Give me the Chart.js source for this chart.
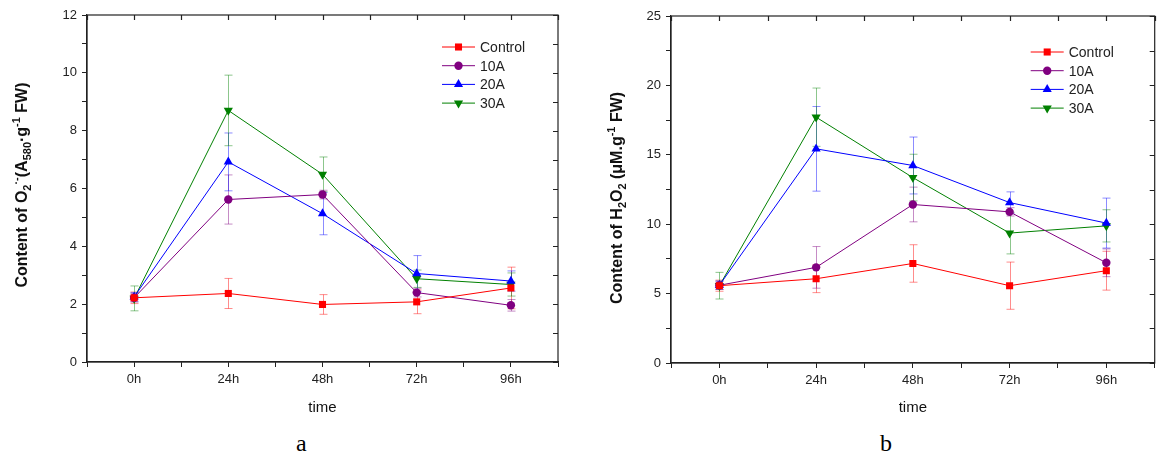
<!DOCTYPE html>
<html>
<head>
<meta charset="utf-8">
<script src="https://cdn.jsdelivr.net/npm/chart.js@4.4.1/dist/chart.umd.min.js"></script>
<style>
body{margin:0;background:#fff;width:1160px;height:459px;overflow:hidden;position:relative;font-family:Arial,"Liberation Sans",sans-serif}
canvas{position:absolute;top:0}
#ca{left:0}
#cb{left:580px}
.cap{position:absolute;top:430px;font:24px "Liberation Serif","Times New Roman",serif;color:#000}
</style>
</head>
<body>
<canvas id="ca" width="580" height="420"></canvas>
<canvas id="cb" width="580" height="420"></canvas>
<div class="cap" style="left:296px">a</div>
<div class="cap" style="left:880px">b</div>
<script>
// categorias e séries
var horas = ['0h', '24h', '48h', '72h', '96h'];
var nomes = ['Control', '10A', '20A', '30A'];
var cores = ['#ff0000', '#800080', '#0000ff', '#008000'];

// painel a: O2- (A580.g-1 FW)
var o2Control = [2.22, 2.37, 1.99, 2.08, 2.56];
var o2ControlErr = [0.2, 0.52, 0.34, 0.41, 0.72];
var o2A10 = [2.22, 5.62, 5.79, 2.40, 1.96];
var o2A10Err = [0.15, 0.85, 0.15, 0.15, 0.2];
var o2A20 = [2.25, 6.92, 5.13, 3.06, 2.80];
var o2A20Err = [0.15, 1.0, 0.73, 0.62, 0.35];
var o2A30 = [2.2, 8.70, 6.49, 2.88, 2.68];
var o2A30Err = [0.43, 1.22, 0.6, 0.3, 0.4];

// painel b: H2O2 (uM.g-1 FW)
var h2o2Control = [5.57, 6.07, 7.17, 5.57, 6.65];
var h2o2ControlErr = [0.4, 1.0, 1.35, 1.7, 1.4];
var h2o2A10 = [5.6, 6.89, 11.42, 10.89, 7.22];
var h2o2A10Err = [0.3, 1.5, 1.25, 0.3, 1.0];
var h2o2A20 = [5.6, 15.43, 14.23, 11.56, 10.08];
var h2o2A20Err = [0.3, 3.05, 2.05, 0.77, 1.8];
var h2o2A30 = [5.57, 17.71, 13.36, 9.36, 9.88];
var h2o2A30Err = [0.96, 2.1, 1.68, 1.5, 1.16];

var estilos = ['rect', 'circle', 'triangle', 'triangle'];
var rotacoes = [0, 0, 0, 180];
var raios = [5, 4.2, 5.3, 5.3];

function rgba(hex, a) {
    var n = parseInt(hex.slice(1), 16);
    return 'rgba(' + (n >> 16) + ',' + ((n >> 8) & 255) + ',' + (n & 255) + ',' + a + ')';
}

function montaDatasets(series, erros) {
    return series.map(function(s, k) {
        return {
            label: nomes[k],
            data: s.map(function(v, i) { return {x: i, y: v}; }),
            erros: erros[k],
            borderColor: cores[k],
            backgroundColor: cores[k],
            borderWidth: 1,
            pointStyle: estilos[k],
            pointRotation: rotacoes[k],
            pointRadius: raios[k],
            pointBorderWidth: 0,
            tension: 0
        };
    });
}

// barras de erro, moldura e legenda
var extras = {
    id: 'extras',
    beforeDatasetsDraw: function(chart) {
        var ctx = chart.ctx, x = chart.scales.x, y = chart.scales.y;
        ctx.save();
        chart.data.datasets.forEach(function(ds) {
            ctx.strokeStyle = rgba(ds.borderColor, 0.45);
            ctx.lineWidth = 1;
            ds.data.forEach(function(p, i) {
                var e = ds.erros[i];
                var px = Math.round(x.getPixelForValue(p.x)) + 0.5;
                var t = y.getPixelForValue(p.y + e), b = y.getPixelForValue(p.y - e);
                ctx.beginPath();
                ctx.moveTo(px, t); ctx.lineTo(px, b);
                ctx.moveTo(px - 4, t); ctx.lineTo(px + 4, t);
                ctx.moveTo(px - 4, b); ctx.lineTo(px + 4, b);
                ctx.stroke();
            });
        });
        ctx.restore();
    },
    afterDraw: function(chart, args, opts) {
        var ctx = chart.ctx, a = chart.chartArea;
        var x = chart.scales.x, y = chart.scales.y;
        ctx.save();
        ctx.strokeStyle = '#222';
        ctx.lineWidth = 1.2;
        ctx.strokeRect(a.left, a.top, a.right - a.left, a.bottom - a.top);
        ctx.beginPath();
        x.ticks.forEach(function(t) {
            var px = Math.round(x.getPixelForValue(t.value)) + 0.5;
            ctx.moveTo(px, a.top); ctx.lineTo(px, a.top + 5);
        });
        y.ticks.forEach(function(t) {
            var py = Math.round(y.getPixelForValue(t.value)) + 0.5;
            ctx.moveTo(a.right, py); ctx.lineTo(a.right - 5, py);
        });
        ctx.stroke();

        // título do eixo y com índices
        ctx.translate(opts.tituloX, opts.tituloY);
        ctx.rotate(-Math.PI / 2);
        ctx.fillStyle = '#111';
        var fonte = function(seg) { return 'bold ' + (seg.s ? 11 : 16) + 'px Arial, "Liberation Sans"'; };
        var total = 0;
        opts.titulo.forEach(function(seg) { ctx.font = fonte(seg); total += ctx.measureText(seg.t).width; });
        var cx = -total / 2;
        ctx.textBaseline = 'alphabetic';
        opts.titulo.forEach(function(seg) {
            ctx.font = fonte(seg);
            var dy = 6 + (seg.s === 'sub' ? 4 : seg.s === 'sup' ? -7 : 0);
            ctx.fillText(seg.t, cx, dy);
            cx += ctx.measureText(seg.t).width;
        });
        ctx.restore();

        // legenda
        ctx.save();
        var lx = a.right + opts.legX, ly = a.top + opts.legY;
        ctx.font = '14px Arial, "Liberation Sans"';
        ctx.textBaseline = 'middle';
        chart.data.datasets.forEach(function(ds, k) {
            var yy = ly + k * 18.7;
            ctx.strokeStyle = ds.borderColor;
            ctx.fillStyle = ds.backgroundColor;
            ctx.lineWidth = 1;
            ctx.beginPath();
            ctx.moveTo(lx, yy); ctx.lineTo(lx + 33, yy);
            ctx.stroke();
            Chart.helpers.drawPoint(ctx, {pointStyle: ds.pointStyle, rotation: ds.pointRotation, radius: ds.pointRadius, borderWidth: 0}, lx + 16.5, yy);
            ctx.fillStyle = '#222';
            ctx.fillText(ds.label, lx + 38, yy + 1);
        });
        ctx.restore();
    }
};

function grafico(id, datasets, yMax, yPasso, yMaior, largY, altX, pad, titulo, tx, ty, legX, legY) {
    return new Chart(document.getElementById(id), {
        type: 'line',
        data: {datasets: datasets},
        plugins: [extras],
        options: {
            responsive: false,
            animation: false,
            layout: {padding: pad},
            plugins: {
                legend: {display: false},
                tooltip: {enabled: false},
                extras: {titulo: titulo, tituloX: tx, tituloY: ty, legX: legX, legY: legY}
            },
            scales: {
                x: {
                    type: 'linear',
                    min: -0.5,
                    max: 4.5,
                    afterFit: function(s) { s.height = altX; },
                    afterBuildTicks: function(s) {
                        s.ticks = [];
                        for (var v = -0.5; v <= 4.5; v += 0.5) s.ticks.push({value: v});
                    },
                    ticks: {
                        autoSkip: false,
                        maxRotation: 0,
                        padding: 5,
                        color: '#222',
                        font: {size: 13, family: 'Arial'},
                        callback: function(v) { return Number.isInteger(v) ? horas[v] : ''; }
                    },
                    grid: {drawOnChartArea: false, drawTicks: true, tickLength: 5, color: '#222'},
                    border: {color: '#222', width: 1.2},
                    title: {display: true, text: 'time', color: '#111', font: {size: 15, family: 'Arial'}, padding: {top: 0, bottom: 3}}
                },
                y: {
                    min: 0,
                    max: yMax,
                    afterFit: function(s) { s.width = largY; },
                    ticks: {
                        stepSize: yPasso,
                        autoSkip: false,
                        padding: 5,
                        color: '#222',
                        font: {size: 13, family: 'Arial'},
                        callback: function(v) { return (Math.abs(v / yMaior - Math.round(v / yMaior)) < 1e-6) ? v : ''; }
                    },
                    grid: {drawOnChartArea: false, drawTicks: true, tickLength: 5, color: '#222'},
                    border: {color: '#222', width: 1.2}
                }
            }
        }
    });
}

var graficoA = grafico('ca',
    montaDatasets([o2Control, o2A10, o2A20, o2A30], [o2ControlErr, o2A10Err, o2A20Err, o2A30Err]),
    12, 1, 2, 87, 58, {left: 0, top: 15, right: 22, bottom: 0},
    [{t: 'Content of O'}, {t: '2', s: 'sub'}, {t: '\u00b7-', s: 'sup'}, {t: '(A'}, {t: '580', s: 'sub'}, {t: '\u00b7g'}, {t: '-1', s: 'sup'}, {t: ' FW)'}],
    21, 185, -116, 32);

var graficoB = grafico('cb',
    montaDatasets([h2o2Control, h2o2A10, h2o2A20, h2o2A30], [h2o2ControlErr, h2o2A10Err, h2o2A20Err, h2o2A30Err]),
    25, 2.5, 5, 91, 57, {left: 0, top: 16, right: 0, bottom: 0},
    [{t: 'Content of H'}, {t: '2', s: 'sub'}, {t: 'O'}, {t: '2', s: 'sub'}, {t: ' (\u03bcM.g'}, {t: '-1', s: 'sup'}, {t: ' FW)'}],
    36, 198, -124, 36);
</script>
</body>
</html>
